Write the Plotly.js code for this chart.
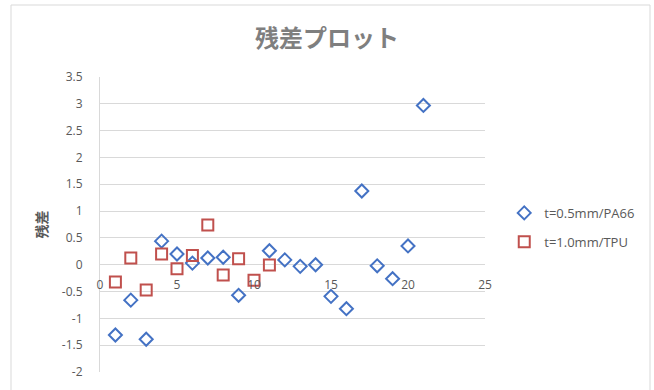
<!DOCTYPE html>
<html>
<head>
<meta charset="utf-8">
<script src="https://cdn.plot.ly/plotly-3.0.1.min.js"></script>
<style>
  html, body { margin: 0; padding: 0; background: #ffffff; }
  #chart { width: 654px; height: 390px; }
</style>
</head>
<body>
<div id="chart"></div>
<script>
// Residuals per observation number
const pa66X = [1, 2, 3, 4, 5, 6, 7, 8, 9, 11, 12, 13, 14, 15, 16, 17, 18, 19, 20, 21];
const pa66Y = [-1.31, -0.66, -1.39, 0.44, 0.2, 0.03, 0.125, 0.14, -0.57, 0.26, 0.09, -0.03, 0.0, -0.59, -0.82, 1.375, -0.02, -0.26, 0.35, 2.97];

const tpuX = [1, 2, 3, 4, 5, 6, 7, 8, 9, 10, 11];
const tpuY = [-0.32, 0.125, -0.47, 0.2, -0.075, 0.17, 0.74, -0.19, 0.11, -0.29, -0.005];

const seriesNames = ['t=0.5mm/PA66', 't=1.0mm/TPU'];
const xTicks = [0, 5, 10, 15, 20, 25];
const yTicks = [-2, -1.5, -1, -0.5, 0, 0.5, 1, 1.5, 2, 2.5, 3, 3.5];

const txtColor = '#595959';
const gridColor = '#d9d9d9';
const tickFont = { family: 'Open Sans, Noto Sans, sans-serif', size: 12, color: txtColor };

const yMin = -2, yMax = 3.5;

const traces = [
  {
    x: pa66X, y: pa66Y, name: seriesNames[0], type: 'scatter', mode: 'markers',
    legendgroup: 'a',
    marker: { symbol: 'diamond-open', size: 10, color: '#4472c4', line: { width: 2, color: '#4472c4' } }
  },
  {
    x: tpuX, y: tpuY, name: seriesNames[1], type: 'scatter', mode: 'markers',
    legendgroup: 'b',
    marker: { symbol: 'square-open', size: 11, color: '#c0504d', line: { width: 2, color: '#c0504d' } }
  }
];

const layout = {
  width: 654, height: 390,
  margin: { l: 100, r: 169, t: 77, b: 18 },
  paper_bgcolor: '#ffffff', plot_bgcolor: '#ffffff',
  title: {
    text: '<b>残差プロット</b>',
    font: { family: 'Noto Sans CJK JP, sans-serif', size: 24, color: '#7f7f7f' },
    x: 0.5, xref: 'container', xanchor: 'center',
    y: 38, yref: 'container', yanchor: 'middle'
  },
  xaxis: {
    range: [0, 25],
    tickvals: xTicks, ticktext: xTicks.map(String),
    showgrid: false, zeroline: false,
    showline: false, ticks: '',
    anchor: 'free',
    position: (0 - yMin) / (yMax - yMin),
    ticklabelstandoff: 11,
    tickfont: tickFont
  },
  yaxis: {
    range: [yMin, yMax],
    tickvals: yTicks, ticktext: yTicks.map(String),
    showgrid: true, gridcolor: gridColor, gridwidth: 1,
    zeroline: true, zerolinecolor: gridColor, zerolinewidth: 1,
    showline: true, linecolor: gridColor, linewidth: 1,
    ticks: '',
    ticklabelstandoff: 14,
    tickfont: tickFont,
    title: {
      text: '<b>残差</b>',
      font: { family: 'Noto Sans CJK JP, sans-serif', size: 14, color: txtColor },
      standoff: 10
    }
  },
  showlegend: true,
  legend: {
    x: 1.05, xanchor: 'left',
    y: 0.59, yanchor: 'top',
    tracegroupgap: 9,
    font: { family: 'Open Sans, Noto Sans, sans-serif', size: 13, color: txtColor },
    bgcolor: 'rgba(0,0,0,0)'
  },
  shapes: [
    // outer chart frame
    {
      type: 'rect', xref: 'paper', yref: 'paper',
      x0: (11 - 100) / 385, x1: (650 - 100) / 385,
      y0: -0.08, y1: (372 - 5) / 295,
      line: { color: gridColor, width: 1 }, fillcolor: 'rgba(0,0,0,0)', layer: 'below'
    }
  ]
};

Plotly.newPlot('chart', traces, layout, { displayModeBar: false, staticPlot: true });
</script>
</body>
</html>
